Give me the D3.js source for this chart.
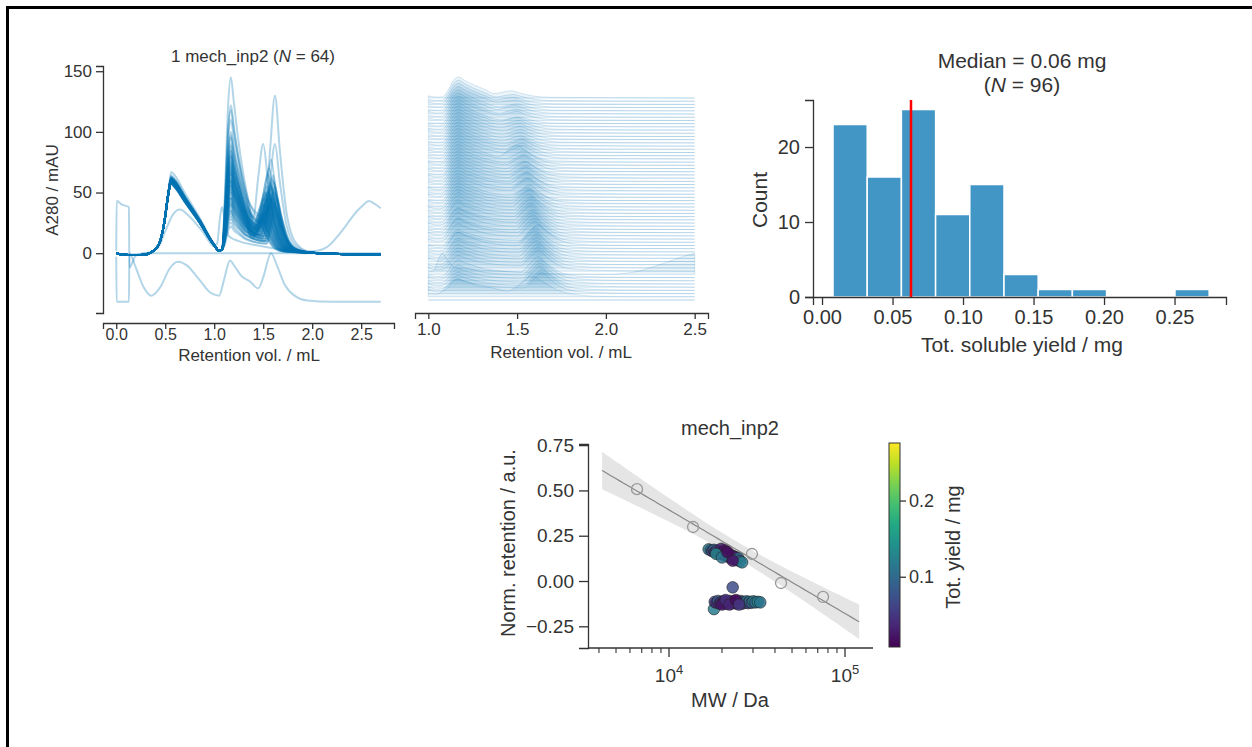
<!DOCTYPE html>
<html>
<head>
<meta charset="utf-8">
<script src="https://cdn.jsdelivr.net/npm/d3@7"></script>
<style>
  body { margin: 0; background: #fff; }
  svg { display: block; font-family: "Liberation Sans", Arial, sans-serif; }
  text { fill: #333; }
</style>
</head>
<body>
<script>
// ---- data ----

// one row per ordinary chromatogram: [peak1 height, peak2 height, valley, peak3 position, peak3 height]
var traceRows = [
  [60, 75, 15, 1.47, 25], [59, 95, 18, 1.48, 30], [61, 68, 14, 1.48, 22], [58, 82, 20, 1.49, 28],
  [62, 122, 22, 1.50, 40], [60, 60, 12, 1.49, 24], [57, 88, 16, 1.50, 33], [61, 72, 18, 1.50, 30],
  [63, 145, 25, 1.51, 45], [59, 65, 15, 1.50, 28], [60, 78, 20, 1.51, 35], [58, 55, 14, 1.51, 26],
  [61, 84, 22, 1.52, 40], [60, 70, 17, 1.52, 33], [62, 100, 25, 1.52, 50], [59, 62, 15, 1.52, 30],
  [57, 74, 20, 1.53, 38], [60, 58, 18, 1.53, 35], [61, 80, 24, 1.53, 48], [59, 66, 20, 1.53, 42],
  [67, 110, 30, 1.50, 90], [60, 52, 16, 1.54, 36], [58, 76, 22, 1.54, 50], [61, 60, 20, 1.54, 45],
  [60, 85, 26, 1.54, 55], [59, 48, 15, 1.55, 38], [62, 70, 22, 1.55, 52], [58, 56, 18, 1.55, 46],
  [60, 90, 28, 1.55, 65], [61, 45, 16, 1.56, 40], [59, 64, 20, 1.56, 50], [60, 54, 18, 1.56, 48],
  [63, 118, 30, 1.56, 70], [58, 50, 15, 1.57, 45], [60, 68, 22, 1.57, 58], [61, 42, 14, 1.57, 40],
  [59, 60, 20, 1.57, 55], [62, 80, 26, 1.58, 77], [60, 46, 15, 1.58, 48], [58, 58, 18, 1.58, 56],
  [61, 40, 13, 1.58, 45], [60, 66, 22, 1.59, 62], [59, 52, 16, 1.59, 54], [57, 38, 12, 1.59, 44],
  [61, 62, 20, 1.60, 64], [60, 44, 14, 1.60, 50], [64, 97, 30, 1.62, 130], [59, 36, 12, 1.60, 46],
  [60, 56, 18, 1.60, 60], [58, 42, 14, 1.61, 52], [61, 50, 16, 1.61, 58], [60, 34, 10, 1.61, 42],
  [62, 72, 24, 1.62, 90], [59, 40, 12, 1.62, 50], [58, 30, 10, 1.62, 40], [60, 46, 14, 1.62, 55],
  [61, 28, 10, 1.63, 38], [59, 35, 12, 1.63, 48], [57, 25, 8, 1.63, 35], [60, 32, 10, 1.64, 45],
  [58, 22, 8, 1.64, 32]
];

// the three odd traces, as [mL, mAU]
var traceU = [[0, 2], [0.004, 43], [0.06, 40], [0.13, 38], [0.134, -12], [0.2, -2], [0.3, 0], [1.0, 0], [2.5, 0], [2.7, 0]];
var traceL = [[0, -3], [0.004, -40], [0.13, -40], [0.134, 0], [0.2, -12], [0.28, -28], [0.36, -35], [0.45, -28],
  [0.55, -12], [0.63, -7], [0.72, -10], [0.85, -22], [0.97, -33], [1.0, -34], [1.05, -35], [1.1, -22], [1.16, -6],
  [1.21, -11], [1.28, -19], [1.36, -23], [1.45, -29], [1.5, -20], [1.58, 0], [1.64, -10], [1.72, -26], [1.82, -35],
  [1.95, -39], [2.2, -40], [2.5, -40], [2.7, -40]];
var traceW = [[0, 0], [0.1, -1], [0.3, 0], [0.42, 4], [0.5, 18], [0.58, 32], [0.65, 36], [0.75, 30], [0.88, 18],
  [1.0, 6], [1.03, 8], [1.06, 30], [1.08, 38], [1.11, 26], [1.15, 14], [1.25, 10], [1.4, 7], [1.6, 4], [1.8, 2],
  [2.0, 1.5], [2.15, 5], [2.3, 18], [2.45, 34], [2.5, 38], [2.58, 43], [2.63, 41], [2.7, 37]];

var retTicks = [0, 0.5, 1.0, 1.5, 2.0, 2.5];
var ridgeTicks = [1.0, 1.5, 2.0, 2.5];
var absTicks = [0, 50, 100, 150];

// histogram of total soluble yield
var histCounts = [23, 16, 25, 11, 15, 3, 1, 1, 0, 0, 1];
var histStart = 0.0078;
var histWidth = 0.02425;
var medianYield = 0.0631;
var yieldTicks = [0, 0.05, 0.10, 0.15, 0.20, 0.25];
var countTicks = [0, 10, 20];

// calibration standards [MW, norm. retention]
var standards = [[6580, 0.507], [13700, 0.298], [29600, 0.149], [43300, -0.011], [75000, -0.088]];
var regExtent = [3.62, 5.08]; // log10 MW span of the fit line

// samples [MW, norm. retention, tot. yield]
var samplesUpper = [
  [16800, 0.175, 0.11], [17300, 0.170, 0.12], [17600, 0.165, 0.05], [18000, 0.172, 0.09], [18300, 0.160, 0.03],
  [18700, 0.168, 0.07], [19000, 0.155, 0.02], [19300, 0.162, 0.04], [19600, 0.150, 0.06], [19800, 0.178, 0.03],
  [20100, 0.158, 0.01], [20400, 0.145, 0.05], [20700, 0.170, 0.02], [21000, 0.140, 0.04], [21300, 0.152, 0.06],
  [21600, 0.135, 0.03], [21900, 0.148, 0.08], [22200, 0.130, 0.05], [22500, 0.142, 0.02], [22800, 0.125, 0.07],
  [23100, 0.138, 0.04], [23500, 0.120, 0.09], [23900, 0.132, 0.03], [24300, 0.115, 0.06], [24800, 0.125, 0.10],
  [25300, 0.110, 0.08], [26000, 0.103, 0.12], [18500, 0.150, 0.13], [20000, 0.130, 0.11], [21500, 0.160, 0.015],
  [23000, 0.112, 0.025]
];
var samplesLower = [
  [18000, -0.155, 0.12], [18200, -0.115, 0.06], [18600, -0.120, 0.04], [19000, -0.110, 0.08], [19400, -0.125, 0.03],
  [19800, -0.115, 0.05], [20200, -0.120, 0.02], [20600, -0.110, 0.04], [21000, -0.125, 0.01], [21400, -0.115, 0.03],
  [21800, -0.120, 0.06], [22200, -0.110, 0.02], [22600, -0.125, 0.05], [23000, -0.035, 0.07], [23000, -0.115, 0.03],
  [23400, -0.120, 0.015], [23800, -0.110, 0.04], [24200, -0.125, 0.02], [24600, -0.115, 0.06], [25000, -0.120, 0.03],
  [25500, -0.110, 0.08], [26000, -0.125, 0.05], [26500, -0.115, 0.09], [27000, -0.120, 0.07], [27600, -0.112, 0.10],
  [28200, -0.122, 0.06], [28800, -0.115, 0.11], [29500, -0.120, 0.08], [30200, -0.112, 0.12], [31000, -0.118, 0.10],
  [32000, -0.115, 0.13], [33000, -0.118, 0.11], [20000, -0.130, 0.025], [21000, -0.105, 0.045], [22000, -0.130, 0.035],
  [24000, -0.105, 0.015], [25000, -0.130, 0.05]
];
var normRetTicks = [-0.25, 0, 0.25, 0.5, 0.75];
var cbarTicks = [0.1, 0.2];

// ---- helpers ----
var blue = "#0173b2";
var axisCol = "#333";

function tracePoints(r) {
  var h1 = r[0], h2 = r[1], v = r[2], p3 = r[3], h3 = r[4];
  return [[0, 0], [0.05, -1], [0.2, -1.5], [0.3, -1], [0.38, 2], [0.44, 8], [0.49, 25], [0.53, 48], [0.56, h1],
    [0.6, h1 - 3], [0.7, h1 * 0.74], [0.85, h1 * 0.44], [1.0, h1 * 0.11], [1.05, 2], [1.08, 3], [1.11, h2 * 0.35],
    [1.14, h2 * 0.82], [1.17, h2], [1.2, h2 * 0.86], [1.25, v + (h2 - v) * 0.55], [1.32, v + (h2 - v) * 0.25],
    [p3 - 0.1, v], [p3 - 0.05, v + (h3 - v) * 0.55], [p3, h3], [p3 + 0.05, h3 * 0.65], [p3 + 0.12, h3 * 0.25],
    [p3 + 0.22, h3 * 0.06], [2.0, 0.3], [2.2, -0.5], [2.5, -1], [2.7, -1]];
}

function styleAxis(g, fs) {
  g.select(".domain").attr("stroke", axisCol).attr("stroke-width", 1.3);
  g.selectAll(".tick line").attr("stroke", axisCol).attr("stroke-width", 1.3);
  g.selectAll(".tick text").attr("fill", "#333").style("font-size", fs + "px").attr("font-family", null);
}

var traces = traceRows.map(tracePoints);
var allTraces = traces.concat([traceU, traceL, traceW]);
// ridge order top -> bottom
var ridgeTraces = traces.slice(0, 55).concat([traceW], traces.slice(55), [traceL, traceU]);

var svg = d3.select("body").append("svg").attr("width", 1252).attr("height", 747);

// frame
svg.append("path").attr("d", "M7.5,747V7.5H1252").attr("fill", "none").attr("stroke", "#000").attr("stroke-width", 3);

// ================= panel 1 : overlaid chromatograms =================
var x1 = d3.scaleLinear().domain([-0.135, 2.835]).range([103, 394]);
var y1 = d3.scaleLinear().domain([-49.3, 154.3]).range([313, 66]);

var line1 = d3.line()
  .x(function(d) { return x1(d[0]); })
  .y(function(d) { return y1(d[1]); })
  .curve(d3.curveMonotoneX);

svg.append("g").selectAll("path").data(allTraces).enter().append("path")
  .attr("d", line1)
  .attr("fill", "none")
  .attr("stroke", blue)
  .attr("stroke-opacity", 0.3)
  .attr("stroke-width", 2);

var gx1 = svg.append("g").attr("transform", "translate(0,323)")
  .call(d3.axisBottom(x1).tickValues(retTicks).tickFormat(d3.format(".1f")).tickSizeOuter(0).tickSize(6).tickPadding(0));
styleAxis(gx1, 16);
var gy1 = svg.append("g").attr("transform", "translate(103,0)")
  .call(d3.axisLeft(y1).tickValues(absTicks).tickSizeOuter(0).tickSize(7).tickPadding(4));
styleAxis(gy1, 17);

svg.append("text").attr("x", 253).attr("y", 62).attr("text-anchor", "middle").style("font-size", "17px")
  .html('1 mech_inp2 (<tspan font-style="italic">N</tspan> = 64)');
svg.append("text").attr("x", 249).attr("y", 361).attr("text-anchor", "middle").style("font-size", "17px")
  .text("Retention vol. / mL");
svg.append("text").attr("transform", "translate(52,190) rotate(-90)").attr("dy", "0.35em")
  .attr("text-anchor", "middle").style("font-size", "17px").text("A280 / mAU");

// ================= panel 2 : ridges =================
var x2 = d3.scaleLinear().domain([0.925, 2.575]).range([415, 708]);
var ridgeTop = 98, ridgeStep = 202 / 63, ridgeH = 21;

ridgeTraces.forEach(function(tr, i) {
  var pts = tr.filter(function(d) { return d[0] >= 1.0 && d[0] <= 2.5; });
  var lo = d3.min(pts, function(d) { return d[1]; });
  var hi = d3.max(pts, function(d) { return d[1]; });
  var span = (hi - lo) > 1 ? hi - lo : 1;
  var base = ridgeTop + i * ridgeStep;
  var area = d3.area()
    .x(function(d) { return x2(d[0]); })
    .y0(base)
    .y1(function(d) { return base - Math.max(0, d[1] - lo) / span * ridgeH; })
    .curve(d3.curveMonotoneX);
  svg.append("path").datum(pts)
    .attr("d", area)
    .attr("fill", blue).attr("fill-opacity", 0.08)
    .attr("stroke", blue).attr("stroke-opacity", 0.16).attr("stroke-width", 1);
});

var gx2 = svg.append("g").attr("transform", "translate(0,313)")
  .call(d3.axisBottom(x2).tickValues(ridgeTicks).tickFormat(d3.format(".1f")).tickSizeOuter(0).tickSize(6).tickPadding(4));
styleAxis(gx2, 17);
svg.append("text").attr("x", 561).attr("y", 358).attr("text-anchor", "middle").style("font-size", "17px")
  .text("Retention vol. / mL");

// ================= panel 3 : histogram =================
var x3 = d3.scaleLinear().domain([-0.0064, 0.2865]).range([813, 1226]);
var y3 = d3.scaleLinear().domain([0, 26.27]).range([297, 100]);

svg.append("g").selectAll("rect").data(histCounts).enter().append("rect")
  .attr("x", function(d, i) { return x3(histStart + i * histWidth); })
  .attr("width", x3(histWidth) - x3(0))
  .attr("y", function(d) { return y3(d); })
  .attr("height", function(d) { return y3(0) - y3(d); })
  .attr("fill", blue).attr("fill-opacity", 0.75)
  .attr("stroke", "#fff").attr("stroke-width", 1.5);

svg.append("line")
  .attr("x1", x3(medianYield)).attr("x2", x3(medianYield))
  .attr("y1", y3.range()[1]).attr("y2", y3(0))
  .attr("stroke", "#ff0000").attr("stroke-width", 2.5);

var gx3 = svg.append("g").attr("transform", "translate(0,297)")
  .call(d3.axisBottom(x3).tickValues(yieldTicks).tickFormat(d3.format(".2f")).tickSizeOuter(0).tickSize(8).tickPadding(5));
styleAxis(gx3, 20);
var gy3 = svg.append("g").attr("transform", "translate(813,0)")
  .call(d3.axisLeft(y3).tickValues(countTicks).tickSizeOuter(0).tickSize(8).tickPadding(5));
styleAxis(gy3, 20);

svg.append("text").attr("x", 1022).attr("y", 68).attr("text-anchor", "middle").style("font-size", "21px")
  .text("Median = 0.06 mg");
svg.append("text").attr("x", 1022).attr("y", 92).attr("text-anchor", "middle").style("font-size", "21px")
  .html('(<tspan font-style="italic">N</tspan> = 96)');
svg.append("text").attr("x", 1022).attr("y", 352).attr("text-anchor", "middle").style("font-size", "21px")
  .text("Tot. soluble yield / mg");
svg.append("text").attr("transform", "translate(760,200) rotate(-90)").attr("dy", "0.35em")
  .attr("text-anchor", "middle").style("font-size", "21px").text("Count");

// ================= panel 4 : calibration scatter =================
var x4 = d3.scaleLog().domain([Math.pow(10, 3.5398), Math.pow(10, 5.159)]).range([588, 873]);
var y4 = d3.scaleLinear().domain([-0.3697, 0.7562]).range([648, 444]);
var col = d3.scaleSequential(d3.interpolateViridis).domain([0.0078, 0.2755]);

// least squares fit on standards with 95% band
var lx = standards.map(function(d) { return Math.log10(d[0]); });
var ly = standards.map(function(d) { return d[1]; });
var n = lx.length, mx = d3.mean(lx), my = d3.mean(ly);
var sxx = d3.sum(lx, function(v) { return (v - mx) * (v - mx); });
var sxy = d3.sum(lx, function(v, i) { return (v - mx) * (ly[i] - my); });
var slope = sxy / sxx, icpt = my - slope * mx;
var sse = d3.sum(lx, function(v, i) { var r = ly[i] - (icpt + slope * v); return r * r; });
var se = Math.sqrt(sse / (n - 2)), tval = 3.182;
var fitX = d3.range(regExtent[0], regExtent[1] + 0.001, 0.02);
var fit = fitX.map(function(v) {
  var h = tval * se * Math.sqrt(1 / n + (v - mx) * (v - mx) / sxx);
  return { m: Math.pow(10, v), y: icpt + slope * v, h: h };
});

svg.append("path").datum(fit)
  .attr("d", d3.area()
    .x(function(d) { return x4(d.m); })
    .y0(function(d) { return y4(d.y - d.h); })
    .y1(function(d) { return y4(d.y + d.h); }))
  .attr("fill", "#888").attr("fill-opacity", 0.22);
svg.append("path").datum(fit)
  .attr("d", d3.line().x(function(d) { return x4(d.m); }).y(function(d) { return y4(d.y); }))
  .attr("fill", "none").attr("stroke", "#888").attr("stroke-width", 1.2);

svg.append("g").selectAll("circle").data(standards).enter().append("circle")
  .attr("cx", function(d) { return x4(d[0]); })
  .attr("cy", function(d) { return y4(d[1]); })
  .attr("r", 5.5)
  .attr("fill", "none").attr("stroke", "#999").attr("stroke-width", 1.3);

svg.append("g").selectAll("circle").data(samplesLower.concat(samplesUpper)).enter().append("circle")
  .attr("cx", function(d) { return x4(d[0]); })
  .attr("cy", function(d) { return y4(d[1]); })
  .attr("r", 5.8)
  .attr("fill", function(d) { return col(d[2]); })
  .attr("fill-opacity", 0.85)
  .attr("stroke", "#222").attr("stroke-width", 0.6);

// axes
var gy4 = svg.append("g").attr("transform", "translate(588,0)")
  .call(d3.axisLeft(y4).tickValues(normRetTicks).tickFormat(d3.format(".2f")).tickSizeOuter(0).tickSize(9).tickPadding(5));
styleAxis(gy4, 19);

var gx4 = svg.append("g").attr("transform", "translate(0,648)");
gx4.append("line").attr("x1", 588).attr("x2", 873).attr("stroke", axisCol).attr("stroke-width", 1.3);
var minor = [4000, 5000, 6000, 7000, 8000, 9000, 20000, 30000, 40000, 50000, 60000, 70000, 80000, 90000];
var major = [10000, 100000];
gx4.selectAll(".mn").data(minor).enter().append("line")
  .attr("x1", function(d) { return x4(d); }).attr("x2", function(d) { return x4(d); })
  .attr("y1", 0).attr("y2", 5).attr("stroke", axisCol).attr("stroke-width", 1.1);
gx4.selectAll(".mj").data(major).enter().append("line")
  .attr("x1", function(d) { return x4(d); }).attr("x2", function(d) { return x4(d); })
  .attr("y1", 0).attr("y2", 9).attr("stroke", axisCol).attr("stroke-width", 1.3);
gx4.selectAll(".lb").data(major).enter().append("text")
  .attr("x", function(d) { return x4(d); }).attr("y", 34)
  .attr("text-anchor", "middle").style("font-size", "19px")
  .html(function(d) { return '10<tspan dy="-0.6em" style="font-size:13px">' + Math.round(Math.log10(d)) + '</tspan>'; });

svg.append("text").attr("x", 730).attr("y", 435).attr("text-anchor", "middle").style("font-size", "20px")
  .text("mech_inp2");
svg.append("text").attr("x", 730).attr("y", 707).attr("text-anchor", "middle").style("font-size", "20px")
  .text("MW / Da");
svg.append("text").attr("transform", "translate(508,543) rotate(-90)").attr("dy", "0.35em")
  .attr("text-anchor", "middle").style("font-size", "20px").text("Norm. retention / a.u.");

// colorbar
var yc = d3.scaleLinear().domain([0.0078, 0.2755]).range([647, 443]);
var grad = svg.append("defs").append("linearGradient").attr("id", "vir")
  .attr("x1", 0).attr("y1", 1).attr("x2", 0).attr("y2", 0);
d3.range(0, 1.0001, 0.1).forEach(function(t) {
  grad.append("stop").attr("offset", t).attr("stop-color", d3.interpolateViridis(t));
});
svg.append("rect").attr("x", 889).attr("y", yc(0.2755)).attr("width", 11).attr("height", yc(0.0078) - yc(0.2755))
  .attr("fill", "url(#vir)").attr("stroke", axisCol).attr("stroke-width", 1);
var gc = svg.append("g").attr("transform", "translate(900,0)")
  .call(d3.axisRight(yc).tickValues(cbarTicks).tickFormat(d3.format(".1f")).tickSizeOuter(0).tickSize(6).tickPadding(3));
gc.select(".domain").remove();
styleAxis(gc, 18);
svg.append("text").attr("transform", "translate(953,547) rotate(-90)").attr("dy", "0.35em")
  .attr("text-anchor", "middle").style("font-size", "20px").text("Tot. yield / mg");
</script>
</body>
</html>
